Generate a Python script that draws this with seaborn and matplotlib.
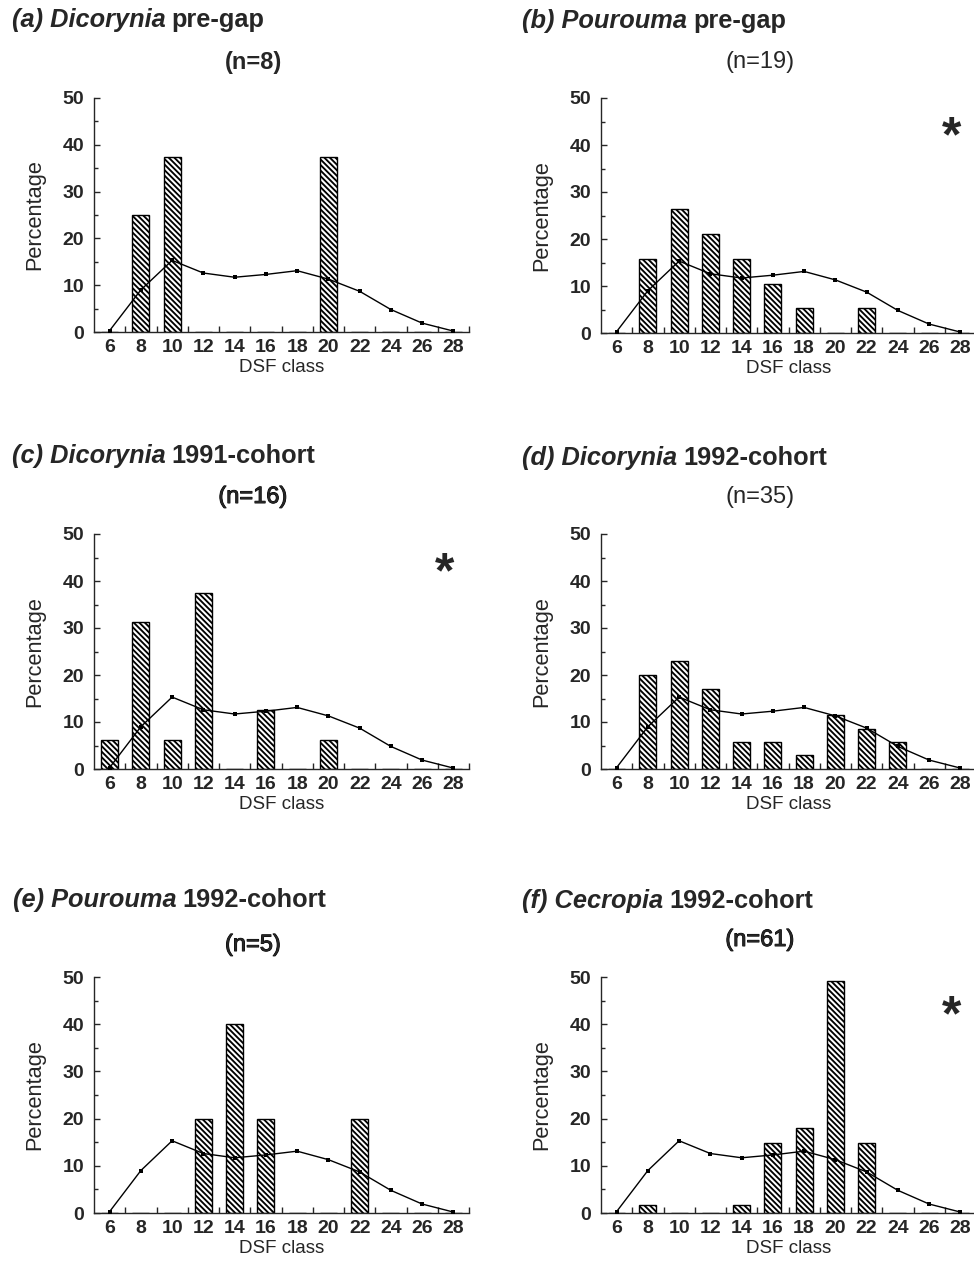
import numpy as np
import pandas as pd
import matplotlib
matplotlib.use('Agg')
import matplotlib.pyplot as plt
import matplotlib.patheffects as pe
from matplotlib.ticker import MultipleLocator, FixedLocator
import seaborn as sns

# === data (percent of stems per DSF class) ===
dsf_classes = [6, 8, 10, 12, 14, 16, 18, 20, 22, 24, 26, 28]
reference_pct = [0.3, 9.0, 15.3, 12.6, 11.7, 12.3, 13.1, 11.3, 8.7, 4.8, 1.9, 0.2]

pct_a = [0, 25.0, 37.5, 0, 0, 0, 0, 37.5, 0, 0, 0, 0]
pct_b = [0, 15.8, 26.3, 21.1, 15.8, 10.5, 5.3, 0, 5.3, 0, 0, 0]
pct_c = [6.25, 31.25, 6.25, 37.5, 0, 12.5, 0, 6.25, 0, 0, 0, 0]
pct_d = [0, 20.0, 22.9, 17.1, 5.7, 5.7, 2.9, 11.4, 8.6, 5.7, 0, 0]
pct_e = [0, 0, 0, 20.0, 40.0, 20.0, 0, 0, 20.0, 0, 0, 0]
pct_f = [0, 1.6, 0, 0, 1.6, 14.8, 18.0, 49.2, 14.8, 0, 0, 0]

panel_letters = ['a', 'b', 'c', 'd', 'e', 'f']
genera = ['Dicorynia', 'Pourouma', 'Dicorynia', 'Dicorynia', 'Pourouma', 'Cecropia']
groups = ['pre-gap', 'pre-gap', '1991-cohort', '1992-cohort', '1992-cohort', '1992-cohort']
sample_sizes = [8, 19, 16, 35, 5, 61]
significant = [False, True, True, False, False, True]
all_pct = [pct_a, pct_b, pct_c, pct_d, pct_e, pct_f]

# === style ===
sns.set_style('ticks')
plt.rcParams['font.family'] = ['Liberation Sans', 'DejaVu Sans']
plt.rcParams['hatch.linewidth'] = 1.35
plt.rcParams['hatch.color'] = 'black'

W, H = 974, 1262
fig = plt.figure(figsize=(W / 100, H / 100), dpi=100)
renderer = fig.canvas.get_renderer()

# pixel layout of the six panels: (left, top of axis, bottom of axis)
lefts = [94, 601, 94, 601, 94, 601]
tops = [98, 98, 534, 534, 977, 977]
bottoms = [332, 333, 769, 769, 1213, 1213]
ax_w = 375

title_x = [12, 522, 12, 522, 13, 522]
title_base = [27, 28, 463, 465, 907, 908]
n_x = [253, 760, 253, 760, 253, 760]
n_y = [62, 62, 497, 497, 945, 940]
n_weight = ['bold', 'normal', 'medium', 'normal', 'medium', 'medium']

for i in range(6):
    l, t, b = lefts[i], tops[i], bottoms[i]
    ax = fig.add_axes([l / W, 1 - b / H, ax_w / W, (b - t) / H])

    df = pd.DataFrame({'dsf': dsf_classes, 'pct': all_pct[i]})
    sns.barplot(data=df, x='dsf', y='pct', native_scale=True, width=0.55,
                color='white', saturation=1, edgecolor='black', linewidth=1.0,
                hatch='\\\\\\\\\\\\', ax=ax, zorder=2)
    sns.lineplot(x=dsf_classes, y=reference_pct, color='black', linewidth=1.0,
                 marker='s', markersize=3.5, markeredgewidth=0, ax=ax, zorder=3)

    ax.set_xlim(5, 29)
    ax.set_ylim(0, 50)
    sns.despine(ax=ax)
    for s in ['left', 'bottom']:
        ax.spines[s].set_linewidth(1.0)

    ax.set_xticks(dsf_classes)
    ax.set_xticklabels([str(c) for c in dsf_classes], fontsize=14, fontweight='bold')
    ax.xaxis.set_minor_locator(FixedLocator([c + 1 for c in dsf_classes]))
    ax.tick_params(axis='x', which='major', length=0, pad=5)
    ax.tick_params(axis='x', which='minor', direction='in', length=4, width=1)

    ax.set_yticks([0, 10, 20, 30, 40, 50])
    ax.set_yticklabels(['0', '10', '20', '30', '40', '50'], fontsize=14, fontweight='bold')
    ax.yaxis.set_minor_locator(MultipleLocator(5))
    ax.tick_params(axis='y', which='major', direction='in', length=4, width=1, pad=7)
    ax.tick_params(axis='y', which='minor', direction='in', length=3, width=1)

    ax.set_ylabel('Percentage', fontsize=15.7)
    ax.yaxis.set_label_coords(-0.13, 0.5)
    ax.set_xlabel('DSF class', fontsize=13.5)
    ax.xaxis.set_label_coords(0.5, -0.115)

    if significant[i]:
        ax.text(0.935, 0.83, '*', transform=ax.transAxes, fontsize=36,
                fontweight='bold', ha='center', va='center')

    # panel title: italic "(x) Genus" followed by upright group name
    tx, ty = title_x[i] / W, 1 - title_base[i] / H
    t1 = fig.text(tx, ty, f'({panel_letters[i]}) {genera[i]}', fontsize=18.3,
                  fontweight='bold', style='italic', ha='left', va='baseline')
    ext = t1.get_window_extent(renderer=renderer)
    fig.text((ext.x1 + 6) / W, ty, groups[i], fontsize=18.3,
             fontweight='bold', ha='left', va='baseline')

    w = n_weight[i]
    txt = fig.text(n_x[i] / W, 1 - n_y[i] / H, f'(n={sample_sizes[i]})', fontsize=17,
                   fontweight='bold' if w == 'bold' else 'normal', ha='center', va='center')
    if w == 'medium':
        txt.set_path_effects([pe.withStroke(linewidth=0.7, foreground='black')])

fig.savefig('out.png', dpi=100)
